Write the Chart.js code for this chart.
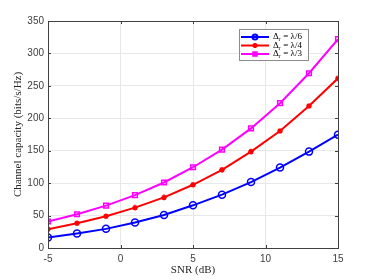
<!DOCTYPE html>
<html>
<head>
<meta charset="utf-8">
<script src="https://cdn.jsdelivr.net/npm/chart.js@4.4.0/dist/chart.umd.min.js"></script>
<style>
  html, body { margin: 0; padding: 0; background: #fff; }
  #wrap { width: 374px; height: 280px; }
</style>
</head>
<body>
<div id="wrap"><canvas id="capChart" width="374" height="280"></canvas></div>
<script>
// SNR points (dB)
const snr = [-5, -3, -1, 1, 3, 5, 7, 9, 11, 13, 15];
// channel capacity (bits/s/Hz) for each antenna spacing
const capL6 = [16.3, 22.4, 29.5, 39.2, 51, 65.8, 82.2, 101.6, 124, 148.6, 174.7];
const capL4 = [29, 38.2, 49, 62.2, 78, 97.5, 120.5, 148.6, 180.3, 219, 261.6];
const capL3 = [40.8, 52, 65.3, 81.6, 101, 124.5, 151.7, 184.4, 223.3, 269.5, 322];
const seriesLabels = ['λ/6', 'λ/4', 'λ/3'];
const xTicks = [-5, 0, 5, 10, 15];
const yTicks = [0, 50, 100, 150, 200, 250, 300, 350];

const axisColor = '#404040';
const tickFont = { family: 'Liberation Sans, Arial, sans-serif', size: 10 };

function pts(vals) {
  return snr.map((x, i) => ({ x, y: vals[i] }));
}

// MATLAB-ish box, inward ticks and legend inside the axes
const boxPlugin = {
  id: 'boxPlugin',
  afterDraw(chart) {
    const ctx = chart.ctx;
    const a = chart.chartArea;
    const xs = chart.scales.x, ys = chart.scales.y;
    ctx.save();
    ctx.strokeStyle = axisColor;
    ctx.lineWidth = 1;
    ctx.strokeRect(Math.round(a.left) + 0.5, Math.round(a.top) + 0.5,
      Math.round(a.right - a.left), Math.round(a.bottom - a.top));
    ctx.beginPath();
    xTicks.forEach(v => {
      const px = Math.round(xs.getPixelForValue(v)) + 0.5;
      ctx.moveTo(px, a.bottom); ctx.lineTo(px, a.bottom - 3);
      ctx.moveTo(px, a.top); ctx.lineTo(px, a.top + 3);
    });
    yTicks.forEach(v => {
      const py = Math.round(ys.getPixelForValue(v)) + 0.5;
      ctx.moveTo(a.left, py); ctx.lineTo(a.left + 3, py);
      ctx.moveTo(a.right, py); ctx.lineTo(a.right - 3, py);
    });
    ctx.stroke();

    // legend
    const lx = 239, ly = 29, lw = 69, lh = 31;
    ctx.fillStyle = '#fff';
    ctx.fillRect(lx, ly, lw, lh);
    ctx.strokeStyle = '#8c8c8c';
    ctx.strokeRect(lx + 0.5, ly + 0.5, lw, lh);
    chart.data.datasets.forEach((ds, i) => {
      const y = ly + 8 + i * 8.5;
      ctx.strokeStyle = ds.borderColor;
      ctx.lineWidth = 2;
      ctx.beginPath();
      ctx.moveTo(lx + 2, y); ctx.lineTo(lx + 30, y);
      ctx.stroke();
      ctx.fillStyle = 'transparent';
      Chart.helpers.drawPoint(ctx, {
        pointStyle: ds.pointStyle, radius: 2.5, rotation: 0,
        borderWidth: 1.5
      }, lx + 16, y);
      ctx.fillStyle = '#000';
      ctx.textBaseline = 'middle';
      ctx.font = '9px "Liberation Serif", serif';
      ctx.fillText('Δ', lx + 34, y);
      ctx.font = '6px "Liberation Serif", serif';
      ctx.fillText('r', lx + 39.5, y + 2.5);
      ctx.font = '9px "Liberation Serif", serif';
      ctx.fillText(' = ' + seriesLabels[i], lx + 42, y);
    });
    ctx.restore();
  }
};

function makeDataset(vals, color, style, r) {
  return {
    data: pts(vals),
    borderColor: color,
    backgroundColor: 'transparent',
    pointBorderColor: color,
    pointBackgroundColor: 'transparent',
    pointStyle: style,
    pointRadius: r,
    pointBorderWidth: 1.5,
    borderWidth: 2,
    tension: 0
  };
}

new Chart(document.getElementById('capChart'), {
  type: 'line',
  data: {
    datasets: [
      makeDataset(capL6, '#0000ff', 'circle', 3.5),
      makeDataset(capL4, '#ff0000', 'star', 2.8),
      makeDataset(capL3, '#ff00ff', 'rect', 3.3)
    ]
  },
  options: {
    responsive: false,
    animation: false,
    layout: { padding: { top: 21, right: 36, bottom: 3, left: 12 } },
    plugins: { legend: { display: false }, tooltip: { enabled: false } },
    scales: {
      x: {
        type: 'linear',
        min: -5, max: 15,
        afterBuildTicks: s => { s.ticks = xTicks.map(v => ({ value: v })); },
        afterFit: s => { s.height = 29; },
        grid: { color: '#e8e8e8', tickLength: 0, drawTicks: false },
        border: { color: axisColor },
        ticks: { color: '#404040', font: tickFont, padding: 5 },
        title: {
          display: true, text: 'SNR (dB)', color: '#262626',
          font: { family: 'Liberation Serif, serif', size: 11 }, padding: { top: 0, bottom: 0 }
        }
      },
      y: {
        min: 0, max: 350,
        afterBuildTicks: s => { s.ticks = yTicks.map(v => ({ value: v })); },
        afterFit: s => { s.width = 36; },
        grid: { color: '#e8e8e8', tickLength: 0, drawTicks: false },
        border: { color: axisColor },
        ticks: { color: '#404040', font: tickFont, padding: 4 },
        title: {
          display: true, text: 'Channel capacity (bits/s/Hz)', color: '#262626',
          font: { family: 'Liberation Serif, serif', size: 11 }, padding: { top: 0, bottom: 0 }
        }
      }
    }
  },
  plugins: [boxPlugin]
});
</script>
</body>
</html>
